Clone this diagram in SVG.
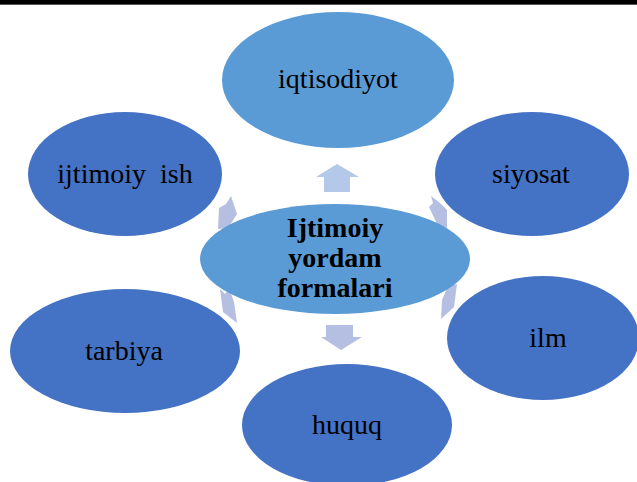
<svg xmlns="http://www.w3.org/2000/svg" width="637" height="482" viewBox="0 0 637 482">
<style>
.light{fill:#5B9BD5}
.dark{fill:#4472C4}
.arr{fill:#B4BFE2}
.arrU{fill:#B4C9E9}
.lbl{font-family:"Liberation Serif","Times New Roman",serif;font-size:28px;fill:#000;text-anchor:middle}
.ctr{font-family:"Liberation Serif","Times New Roman",serif;font-size:28px;font-weight:bold;fill:#000;text-anchor:middle}
</style>
<rect x="0" y="0" width="637" height="482" fill="#fff"/>
<rect x="0" y="0" width="637" height="4" fill="#000"/>
<rect x="0" y="4" width="637" height="1" fill="#555"/>
<g id="connectors">
<polygon class="arrU" points="337,164 359,177 350,177 350,192 324,192 324,177 316,177"/>
<polygon class="arr" points="326,325 353,325 353,337 362,337 341,350 321,337 326,337"/>
<polygon class="arr" points="231,196 237,214 228,228 218,229 219,208 226,204"/>
<polygon class="arr" points="431,196 440,203 447,210 447,228 438,226 429,207 433,203"/>
<polygon class="arr" points="220,289 225,294 229,288 234,302 237,323 223,312"/>
<polygon class="arr" points="448,286 457,284 454,307 441,319 442,300"/>
</g>
<g id="iqtisodiyot"><ellipse class="light" cx="338" cy="80" rx="116" ry="68"/><text class="lbl" x="338" y="88">iqtisodiyot</text></g>
<g id="ijtimoiy-ish"><ellipse class="dark" cx="125" cy="174" rx="97" ry="62"/><text class="lbl" x="125" y="183" xml:space="preserve">ijtimoiy  ish</text></g>
<g id="siyosat"><ellipse class="dark" cx="532" cy="174" rx="97" ry="62"/><text class="lbl" x="531" y="183">siyosat</text></g>
<g id="center"><ellipse class="light" cx="335" cy="259" rx="135" ry="55"/><text class="ctr" x="335" y="237">Ijtimoiy</text><text class="ctr" x="335" y="267">yordam</text><text class="ctr" x="335" y="297">formalari</text></g>
<g id="tarbiya"><ellipse class="dark" cx="125" cy="351" rx="115" ry="62"/><text class="lbl" x="124" y="360">tarbiya</text></g>
<g id="ilm"><ellipse class="dark" cx="543" cy="338" rx="96" ry="62"/><text class="lbl" x="548" y="347">ilm</text></g>
<g id="huquq"><ellipse class="dark" cx="347" cy="425" rx="105" ry="61"/><text class="lbl" x="347" y="434">huquq</text></g>
</svg>
